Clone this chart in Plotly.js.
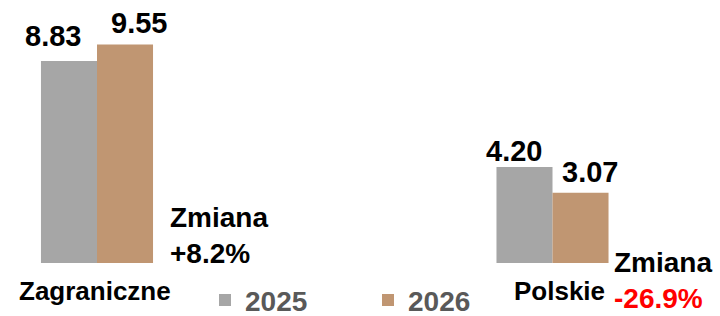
<!DOCTYPE html>
<html><head><meta charset="utf-8">
<script src="https://cdn.plot.ly/plotly-3.0.1.min.js"></script>
<style>html,body{margin:0;padding:0;background:#fff;}#chart{width:720px;height:316px;}</style>
</head><body><div id="chart"></div>
<script>
// ---- data ----
const categories = ["Zagraniczne", "Polskie"];
const seriesNames = ["2025", "2026"];
const values2025 = [8.83, 4.20];
const values2026 = [9.55, 3.07];
const changeLabel = "Zmiana";

// ---- styles / label offsets (pixels) ----
const colors = ["#A6A6A6", "#C09672"];
const FONT = "Liberation Sans, Arial, sans-serif";
const bargap = 0.754;
const labelDx = [[-16, -10], [14, 9]];
const labelDy = [[7, -2], [3, 3]];
const changeDx = [15, 3];
const changeDy = [63, 18];
const catDx = [-2, 7];
const catDy = -11;

const xs = categories.map((c, i) => i);
const series = [values2025, values2026];
const traces = series.map((vals, s) => ({
  type: "bar", x: xs, y: vals, name: seriesNames[s],
  marker: {color: colors[s], line: {width: 0}},
  hoverinfo: "skip"
}));

const barW = (1 - bargap) / series.length;
const annotations = [];
series.forEach((vals, s) => {
  vals.forEach((v, i) => {
    annotations.push({
      x: i + (s - (series.length - 1) / 2) * barW, y: v,
      xref: "x", yref: "y", text: v.toFixed(2), showarrow: false,
      xanchor: "center", yanchor: "bottom",
      xshift: labelDx[s][i], yshift: labelDy[s][i],
      font: {family: FONT, size: 29, color: "#000", weight: "bold"}
    });
  });
});
categories.forEach((c, i) => {
  annotations.push({
    x: i, y: 0, xref: "x", yref: "y", text: c, showarrow: false,
    xanchor: "center", yanchor: "top", xshift: catDx[i], yshift: catDy,
    font: {family: FONT, size: 26, color: "#000", weight: "bold"}
  });
  const pct = (values2026[i] - values2025[i]) / values2025[i] * 100;
  const txt = (pct >= 0 ? "+" : "") + pct.toFixed(1) + "%";
  const col = pct >= 0 ? "#000000" : "#FF0000";
  annotations.push({
    x: i + (1 - bargap) / 2, y: 0, xref: "x", yref: "y",
    text: changeLabel + "<br><span style=\"color:" + col + "\">" + txt + "</span>",
    showarrow: false, xanchor: "left", yanchor: "top", align: "left",
    xshift: changeDx[i], yshift: changeDy[i],
    font: {family: FONT, size: 28, color: "#000", weight: "bold"}
  });
});

const unit = 455.5;
const x0 = -97 / unit;
const layout = {
  width: 720, height: 316,
  margin: {l: 0, r: 0, t: 0, b: 53, pad: 0, autoexpand: false},
  paper_bgcolor: "#fff", plot_bgcolor: "#fff",
  barmode: "group", bargap: bargap, bargroupgap: 0,
  xaxis: {
    type: "linear", range: [x0, x0 + 720 / unit],
    showticklabels: false, showgrid: false, zeroline: false, showline: false, ticks: "",
    fixedrange: true, automargin: false
  },
  yaxis: {range: [0, 263 / 22.88], visible: false, fixedrange: true},
  showlegend: true,
  legend: {
    orientation: "h", x: 205 / 720, xanchor: "left", y: -0.142, yanchor: "middle",
    font: {family: FONT, size: 28, color: "#595959", weight: "bold"},
    entrywidth: 118, entrywidthmode: "pixels", bgcolor: "rgba(0,0,0,0)",
    traceorder: "normal", itemclick: false, itemdoubleclick: false
  },
  annotations: annotations
};
Plotly.newPlot("chart", traces, layout, {displayModeBar: false, staticPlot: true});
</script></body></html>
